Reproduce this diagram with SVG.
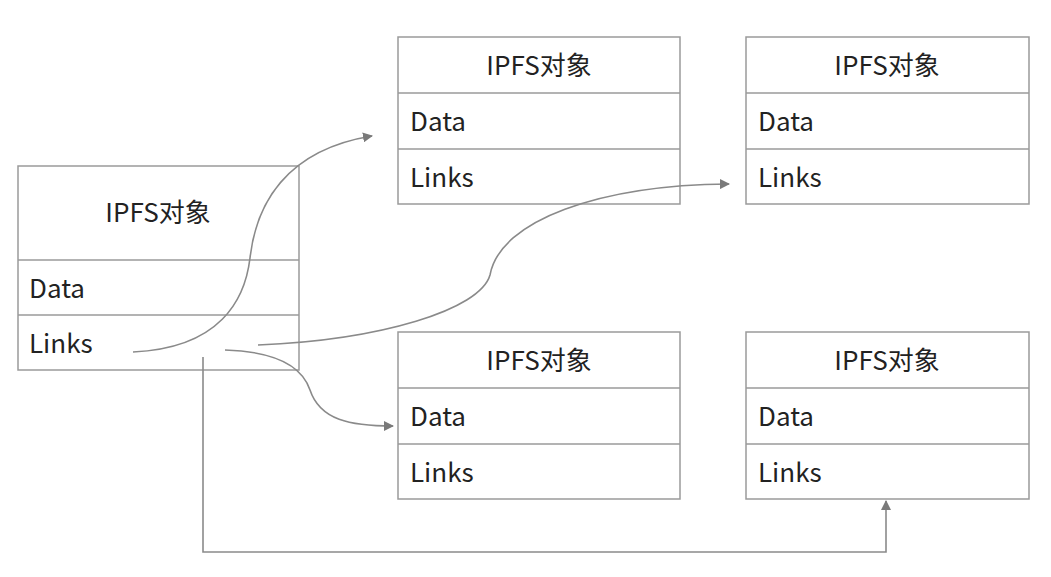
<svg xmlns="http://www.w3.org/2000/svg" width="1051" height="577" viewBox="0 0 1051 577">
<style>
.box{fill:#fff;stroke:#9a9a9a;stroke-width:1.5}
.div{stroke:#9a9a9a;stroke-width:1.5}
.t{font-family:"Noto Sans CJK SC","Noto Sans",sans-serif;font-size:26px;fill:#222}
.c{text-anchor:middle}
.ln{fill:none;stroke:#8a8a8a;stroke-width:1.6}
</style>
<defs>
<marker id="ah" viewBox="0 0 10 10" refX="9" refY="5" markerWidth="10" markerHeight="10" markerUnits="userSpaceOnUse" orient="auto">
<path d="M0,0 L10,5 L0,10 z" fill="#7a7a7a"/>
</marker>
</defs>
<rect width="1051" height="577" fill="#fff"/>
<g id="nodeA">
<rect class="box" x="18" y="166" width="281" height="204"/>
<line class="div" x1="18" y1="260" x2="299" y2="260"/>
<line class="div" x1="18" y1="315" x2="299" y2="315"/>
<text class="t c" x="158" y="222">IPFS对象</text>
<text class="t" x="29" y="298">Data</text>
<text class="t" x="29" y="353">Links</text>
</g>
<g id="nodeB">
<rect class="box" x="398" y="37" width="282" height="167"/>
<line class="div" x1="398" y1="93" x2="680" y2="93"/>
<line class="div" x1="398" y1="149" x2="680" y2="149"/>
<text class="t c" x="539" y="75">IPFS对象</text>
<text class="t" x="410" y="131">Data</text>
<text class="t" x="410" y="187">Links</text>
</g>
<g id="nodeC">
<rect class="box" x="746" y="37" width="283" height="167"/>
<line class="div" x1="746" y1="93" x2="1029" y2="93"/>
<line class="div" x1="746" y1="149" x2="1029" y2="149"/>
<text class="t c" x="887" y="75">IPFS对象</text>
<text class="t" x="758" y="131">Data</text>
<text class="t" x="758" y="187">Links</text>
</g>
<g id="nodeD">
<rect class="box" x="398" y="332" width="282" height="167"/>
<line class="div" x1="398" y1="388" x2="680" y2="388"/>
<line class="div" x1="398" y1="444" x2="680" y2="444"/>
<text class="t c" x="539" y="370">IPFS对象</text>
<text class="t" x="410" y="426">Data</text>
<text class="t" x="410" y="482">Links</text>
</g>
<g id="nodeE">
<rect class="box" x="746" y="332" width="283" height="167"/>
<line class="div" x1="746" y1="388" x2="1029" y2="388"/>
<line class="div" x1="746" y1="444" x2="1029" y2="444"/>
<text class="t c" x="887" y="370">IPFS对象</text>
<text class="t" x="758" y="426">Data</text>
<text class="t" x="758" y="482">Links</text>
</g>
<g id="connectors">
<path class="ln" marker-end="url(#ah)" d="M133,352 C220,348 245,300 250,258 C256,205 285,150 372,136"/>
<path class="ln" marker-end="url(#ah)" d="M258,345 C380,340 480,310 490,275 C500,220 600,185 729,184"/>
<path class="ln" marker-end="url(#ah)" d="M225,350 C290,352 305,375 310,390 C320,420 350,426 393,426"/>
<path class="ln" marker-end="url(#ah)" d="M203,357 V552 H886 V501"/>
</g>
</svg>
